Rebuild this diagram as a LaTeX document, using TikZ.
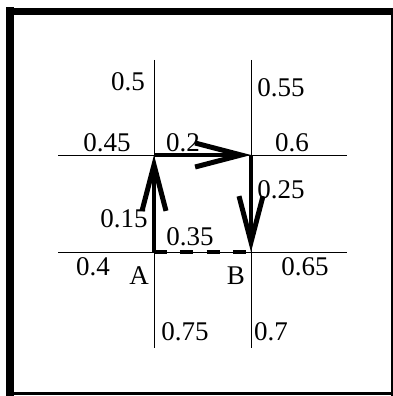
\documentclass[tikz,border=0pt]{standalone}
\usepackage{fontspec}
\setmainfont{Liberation Serif}
\usetikzlibrary{arrows.meta,positioning}
\tikzset{
    grid/.style={draw,thin,line width=0.8pt},
    walk/.style={draw,line width=3.5pt,-{Straight Barb[length=46pt,width=24pt,line width=5pt]}},
    gap/.style={draw,line width=3.5pt,dash pattern=on 13pt off 13.3pt},
    val/.style={inner sep=1pt,font=\fontsize{27}{29}\selectfont},
}

\begin{document}
\begin{tikzpicture}[x=1pt,y=-1pt]
    \useasboundingbox (0,0) rectangle (393,396);
    % frame
    \draw[line width=8pt] (10,7.5)--(10,396);
    \draw[line width=7pt] (6,11.5)--(393,11.5);
    \draw[line width=3pt] (392,8)--(392,396);
    \draw[line width=3pt] (6,393.5)--(393,393.5);
    % grid
    \coordinate (A) at (154,252);
    \coordinate (B) at (251,252);
    \coordinate (C) at (154,155);
    \coordinate (D) at (251,155);
    \draw[grid] (154,60)--(154,348);
    \draw[grid] (251,60)--(251,348);
    \draw[grid] (58,155)--(347,155);
    \draw[grid] (58,252)--(347,252);
    % path
    \draw[gap] (A)--(B);
    \draw[walk] (A)--(C);
    \draw[walk] (C)--(D);
    \draw[walk] (D)--(B);
    % values
    \node[val] (v05) at (128,82) {0.5};
    \node[val] (v055) at (281,88) {0.55};
    \node[val] (v045) at (107,143) {0.45};
    \node[val] (v02) at (183,143) {0.2};
    \node[val] (v06) at (292,143) {0.6};
    \node[val] (v025) at (281,190) {0.25};
    \node[val] (v015) at (124,219) {0.15};
    \node[val] (v035) at (190,237) {0.35};
    \node[val] (v04) at (93,267) {0.4};
    \node[val] (lA) at (139,276) {A};
    \node[val] (lB) at (236,276) {B};
    \node[val] (v065) at (305,267) {0.65};
    \node[val] (v075) at (185,332) {0.75};
    \node[val] (v07) at (271,332) {0.7};
\end{tikzpicture}
\end{document}
